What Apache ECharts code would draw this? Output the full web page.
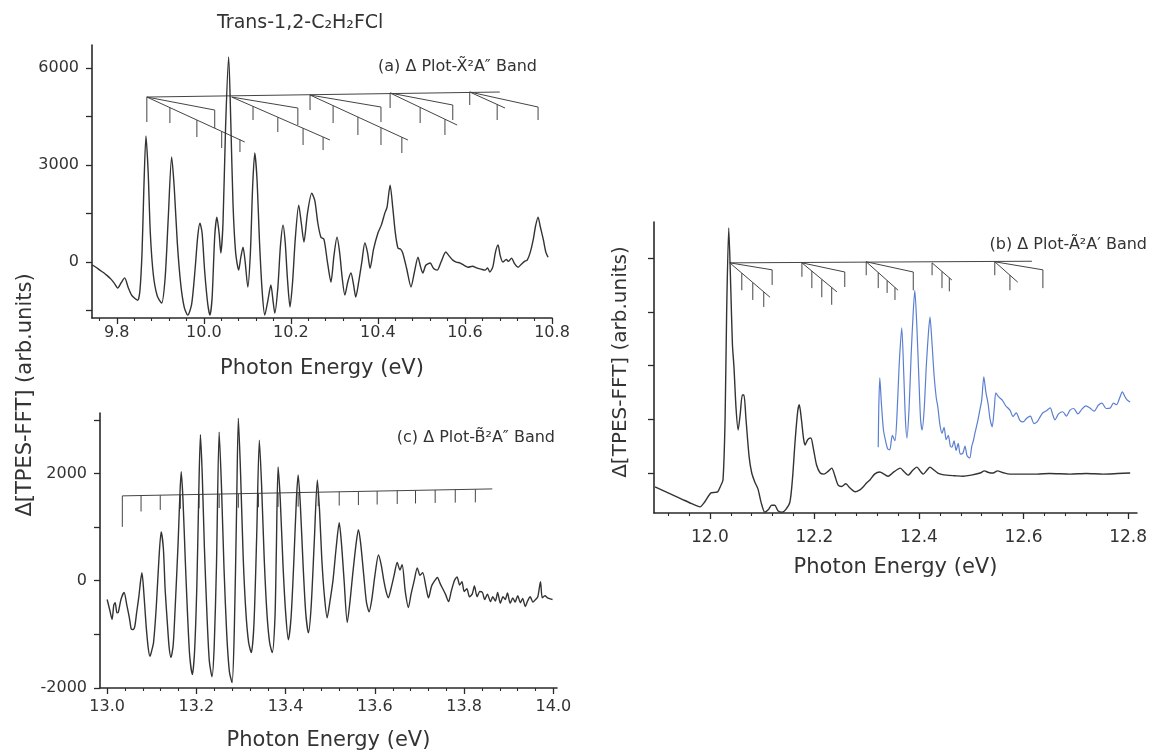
<!DOCTYPE html>
<html>
<head>
<meta charset="utf-8">
<script src="https://cdn.jsdelivr.net/npm/echarts@6/dist/echarts.min.js"></script>
<style>
  html, body { margin: 0; padding: 0; background: #fff; }
  #chart { width: 1150px; height: 753px; }
</style>
</head>
<body>
<div id="chart"></div>
<script>
// ---- panel (a): X band, photon energy (eV) / delta signal
const aEnergy = [9.743, 9.752, 9.761, 9.770, 9.778, 9.786, 9.794, 9.802, 9.810, 9.818, 9.826, 9.834, 9.841, 9.848, 9.853, 9.858, 9.862, 9.867, 9.872, 9.877, 9.884, 9.893, 9.903, 9.911, 9.918, 9.926, 9.932, 9.939, 9.947, 9.955, 9.963, 9.972, 9.980, 9.986, 9.991, 9.996, 10.002, 10.009, 10.014, 10.019, 10.025, 10.030, 10.035, 10.039, 10.044, 10.050, 10.057, 10.062, 10.067, 10.073, 10.080, 10.085, 10.090, 10.095, 10.101, 10.107, 10.112, 10.117, 10.122, 10.128, 10.134, 10.140, 10.147, 10.154, 10.159, 10.163, 10.170, 10.176, 10.182, 10.187, 10.192, 10.198, 10.204, 10.210, 10.218, 10.224, 10.230, 10.238, 10.248, 10.255, 10.262, 10.269, 10.276, 10.284, 10.292, 10.299, 10.306, 10.312, 10.318, 10.324, 10.331, 10.338, 10.344, 10.349, 10.356, 10.363, 10.370, 10.376, 10.382, 10.390, 10.400, 10.408, 10.416, 10.421, 10.428, 10.434, 10.440, 10.446, 10.452, 10.457, 10.466, 10.476, 10.484, 10.492, 10.498, 10.503, 10.510, 10.520, 10.528, 10.536, 10.545, 10.556, 10.563, 10.572, 10.580, 10.589, 10.598, 10.607, 10.617, 10.628, 10.637, 10.646, 10.652, 10.657, 10.664, 10.670, 10.676, 10.681, 10.687, 10.695, 10.700, 10.707, 10.714, 10.722, 10.730, 10.737, 10.743, 10.750, 10.757, 10.762, 10.768, 10.773, 10.780, 10.786, 10.791];
const aSignal = [-90, -160, -250, -330, -420, -520, -650, -800, -640, -490, -780, -1020, -1120, -1180, -900, 300, 2200, 3900, 2800, 900, -400, -1050, -1270, -500, 1300, 3250, 2300, 600, -700, -1400, -1640, -1300, -200, 800, 1200, 900, -300, -1300, -1640, -1100, 800, 1390, 900, 280, 1200, 4200, 6340, 4300, 1800, 300, -250, 150, 460, 0, -770, 300, 2300, 3370, 2600, 600, -900, -1640, -1200, -710, -1200, -1580, -800, 500, 1140, 600, -500, -1390, -600, 700, 1760, 1200, 620, 1500, 2130, 1900, 1200, 770, 700, 0, -620, 200, 770, 300, -500, -1020, -600, -340, -700, -1080, -600, 0, 590, 300, -190, 400, 900, 1150, 1520, 1700, 2380, 1700, 900, 430, 400, 280, -200, -770, -300, 150, -150, -340, -100, -30, -200, -250, 0, 310, 200, 60, 0, -30, -100, -160, -130, -190, -220, -250, -180, -310, -150, 300, 530, 200, 0, 80, 20, 120, -50, -160, -60, 20, 60, 300, 700, 1100, 1390, 1100, 700, 300, 150];
const aTicks = [9.8, 10.0, 10.2, 10.4, 10.6, 10.8];
const aYTicks = [-1500, 0, 1500, 3000, 4500, 6000];
const aYLabels = [0, 3000, 6000];
// vibrational progression comb drawn over panel (a)
const aComb = [
  [[9.869, 5103], [10.680, 5258]],
  [[9.869, 5103], [9.869, 4330]],
  [[9.869, 5103], [10.025, 4701], [10.025, 4145]],
  [[9.869, 5103], [10.094, 3712]],
  [[9.922, 4776], [9.922, 4299]],
  [[9.984, 4392], [9.984, 3866]],
  [[10.041, 4039], [10.041, 3526]],
  [[10.083, 3789], [10.083, 3402]],
  [[10.064, 5103], [10.216, 4763], [10.216, 4237]],
  [[10.064, 5103], [10.290, 3773]],
  [[10.113, 4815], [10.113, 4392]],
  [[10.170, 4479], [10.170, 4021]],
  [[10.228, 4138], [10.228, 3619]],
  [[10.274, 3867], [10.274, 3464]],
  [[10.244, 5165], [10.244, 4701]],
  [[10.244, 5165], [10.407, 4794], [10.407, 4330]],
  [[10.244, 5165], [10.469, 3773]],
  [[10.297, 4840], [10.297, 4299]],
  [[10.354, 4485], [10.354, 3928]],
  [[10.407, 4157], [10.407, 3619]],
  [[10.455, 3860], [10.455, 3371]],
  [[10.428, 5227], [10.428, 4763]],
  [[10.428, 5227], [10.572, 4856], [10.572, 4392]],
  [[10.428, 5227], [10.582, 4237]],
  [[10.497, 4783], [10.497, 4299]],
  [[10.554, 4417], [10.554, 3928]],
  [[10.611, 5258], [10.611, 4856]],
  [[10.611, 5258], [10.692, 4763]],
  [[10.674, 4873], [10.674, 4392]],
  [[10.611, 5258], [10.768, 4794], [10.768, 4392]]
];

// ---- panel (b): A band (black) and magnified tail (blue)
const bEnergy = [11.895, 11.920, 11.945, 11.965, 11.981, 11.990, 12.002, 12.010, 12.015, 12.020, 12.025, 12.029, 12.032, 12.036, 12.040, 12.043, 12.046, 12.050, 12.054, 12.058, 12.062, 12.065, 12.069, 12.075, 12.080, 12.086, 12.092, 12.098, 12.105, 12.112, 12.118, 12.124, 12.130, 12.138, 12.145, 12.153, 12.158, 12.163, 12.168, 12.171, 12.175, 12.179, 12.182, 12.187, 12.193, 12.198, 12.204, 12.211, 12.218, 12.226, 12.233, 12.239, 12.245, 12.252, 12.260, 12.268, 12.278, 12.286, 12.293, 12.300, 12.306, 12.315, 12.325, 12.333, 12.341, 12.352, 12.364, 12.372, 12.379, 12.388, 12.396, 12.402, 12.408, 12.415, 12.421, 12.428, 12.436, 12.445, 12.453, 12.468, 12.484, 12.500, 12.517, 12.525, 12.533, 12.542, 12.550, 12.560, 12.574, 12.600, 12.626, 12.650, 12.689, 12.720, 12.752, 12.780, 12.804];
const bSignal = [-0.26, -0.37, -0.48, -0.57, -0.63, -0.54, -0.37, -0.36, -0.35, -0.25, -0.13, 1.0, 3.0, 4.56, 3.4, 2.4, 1.97, 1.2, 0.80, 1.1, 1.45, 1.45, 1.0, 0.30, 0.0, -0.17, -0.3, -0.55, -0.73, -0.68, -0.60, -0.60, -0.70, -0.73, -0.68, -0.54, -0.1, 0.6, 1.15, 1.27, 1.0, 0.65, 0.52, 0.62, 0.65, 0.45, 0.15, 0.0, -0.02, 0.03, 0.09, -0.05, -0.22, -0.25, -0.2, -0.28, -0.35, -0.32, -0.26, -0.18, -0.13, -0.02, 0.02, -0.02, -0.06, 0.02, 0.09, 0.02, -0.04, 0.05, 0.11, 0.04, -0.02, 0.05, 0.11, 0.06, 0.0, -0.03, -0.04, -0.05, -0.06, -0.04, 0.0, 0.04, 0.01, 0.0, 0.04, 0.01, -0.02, -0.02, -0.02, -0.01, -0.02, -0.01, -0.02, -0.01, 0.0];
const bZoomEnergy = [12.322, 12.323, 12.325, 12.328, 12.332, 12.336, 12.340, 12.344, 12.349, 12.354, 12.358, 12.362, 12.367, 12.371, 12.374, 12.377, 12.381, 12.385, 12.389, 12.392, 12.396, 12.400, 12.403, 12.406, 12.410, 12.414, 12.418, 12.421, 12.425, 12.429, 12.433, 12.436, 12.440, 12.444, 12.448, 12.452, 12.456, 12.460, 12.463, 12.467, 12.471, 12.475, 12.479, 12.484, 12.488, 12.492, 12.497, 12.501, 12.504, 12.507, 12.512, 12.516, 12.520, 12.524, 12.528, 12.532, 12.536, 12.540, 12.544, 12.547, 12.552, 12.559, 12.566, 12.574, 12.580, 12.586, 12.593, 12.599, 12.606, 12.613, 12.620, 12.626, 12.632, 12.637, 12.644, 12.651, 12.656, 12.660, 12.667, 12.675, 12.682, 12.689, 12.696, 12.704, 12.711, 12.719, 12.727, 12.735, 12.743, 12.750, 12.758, 12.766, 12.772, 12.778, 12.784, 12.789, 12.794, 12.798, 12.804];
const bZoomSignal = [0.48, 1.2, 1.77, 1.3, 0.8, 0.6, 0.45, 0.43, 0.7, 0.6, 1.1, 2.0, 2.70, 1.8, 1.0, 0.65, 1.2, 2.2, 3.0, 3.40, 2.7, 1.7, 1.0, 0.80, 1.2, 2.0, 2.6, 2.90, 2.4, 1.8, 1.4, 1.23, 0.9, 0.74, 0.85, 0.62, 0.7, 0.5, 0.48, 0.6, 0.42, 0.55, 0.35, 0.37, 0.5, 0.32, 0.28, 0.5, 0.6, 0.74, 0.95, 1.15, 1.36, 1.79, 1.5, 1.30, 1.0, 0.86, 1.2, 1.49, 1.42, 1.36, 1.25, 1.17, 1.05, 1.12, 0.98, 0.95, 1.02, 1.06, 0.92, 0.95, 1.05, 1.12, 1.16, 1.21, 1.08, 0.99, 1.1, 1.14, 1.06, 1.17, 1.2, 1.1, 1.18, 1.25, 1.21, 1.15, 1.26, 1.3, 1.2, 1.21, 1.3, 1.27, 1.4, 1.51, 1.42, 1.36, 1.32];
const bTicks = [12.0, 12.2, 12.4, 12.6, 12.8];
const bYTicks = [0, 1, 2, 3, 4];
const bComb = [
  [[12.038, 3.91], [12.616, 3.94]],
  [[12.038, 3.91], [12.119, 3.78], [12.119, 3.50]],
  [[12.038, 3.91], [12.115, 3.27]],
  [[12.061, 3.72], [12.061, 3.40]],
  [[12.082, 3.54], [12.082, 3.22]],
  [[12.103, 3.37], [12.103, 3.09]],
  [[12.176, 3.91], [12.176, 3.65]],
  [[12.176, 3.91], [12.258, 3.74], [12.258, 3.46]],
  [[12.176, 3.91], [12.243, 3.37]],
  [[12.195, 3.76], [12.195, 3.44]],
  [[12.214, 3.60], [12.214, 3.27]],
  [[12.233, 3.45], [12.233, 3.13]],
  [[12.299, 3.93], [12.299, 3.68]],
  [[12.299, 3.93], [12.389, 3.74], [12.389, 3.40]],
  [[12.299, 3.93], [12.360, 3.40]],
  [[12.322, 3.73], [12.322, 3.44]],
  [[12.339, 3.58], [12.339, 3.35]],
  [[12.354, 3.45], [12.354, 3.22]],
  [[12.425, 3.91], [12.425, 3.68]],
  [[12.425, 3.91], [12.463, 3.59]],
  [[12.444, 3.75], [12.444, 3.44]],
  [[12.458, 3.63], [12.458, 3.38]],
  [[12.545, 3.93], [12.545, 3.68]],
  [[12.545, 3.93], [12.637, 3.78], [12.637, 3.44]],
  [[12.545, 3.93], [12.589, 3.55]],
  [[12.574, 3.68], [12.574, 3.40]]
];

// ---- panel (c): B band
const cEnergy = [13.000, 13.006, 13.011, 13.015, 13.018, 13.022, 13.025, 13.031, 13.038, 13.044, 13.050, 13.054, 13.058, 13.062, 13.066, 13.071, 13.075, 13.078, 13.082, 13.087, 13.092, 13.096, 13.100, 13.104, 13.110, 13.116, 13.121, 13.126, 13.130, 13.135, 13.139, 13.143, 13.148, 13.153, 13.159, 13.163, 13.166, 13.170, 13.175, 13.180, 13.185, 13.191, 13.196, 13.201, 13.205, 13.209, 13.213, 13.218, 13.224, 13.229, 13.235, 13.240, 13.245, 13.251, 13.256, 13.262, 13.268, 13.274, 13.280, 13.285, 13.290, 13.294, 13.299, 13.305, 13.311, 13.317, 13.323, 13.329, 13.335, 13.341, 13.346, 13.352, 13.358, 13.364, 13.370, 13.376, 13.379, 13.383, 13.388, 13.394, 13.400, 13.406, 13.412, 13.418, 13.424, 13.428, 13.433, 13.439, 13.445, 13.451, 13.457, 13.464, 13.471, 13.476, 13.481, 13.487, 13.493, 13.499, 13.506, 13.513, 13.520, 13.525, 13.531, 13.538, 13.544, 13.550, 13.558, 13.563, 13.568, 13.575, 13.581, 13.587, 13.593, 13.600, 13.608, 13.614, 13.620, 13.625, 13.630, 13.636, 13.643, 13.650, 13.656, 13.661, 13.668, 13.675, 13.681, 13.688, 13.695, 13.701, 13.707, 13.714, 13.720, 13.727, 13.734, 13.740, 13.746, 13.752, 13.758, 13.765, 13.771, 13.778, 13.784, 13.790, 13.795, 13.800, 13.806, 13.812, 13.818, 13.823, 13.829, 13.835, 13.841, 13.846, 13.852, 13.859, 13.864, 13.870, 13.875, 13.881, 13.887, 13.892, 13.897, 13.903, 13.909, 13.914, 13.920, 13.926, 13.931, 13.937, 13.942, 13.948, 13.954, 13.960, 13.965, 13.971, 13.975, 13.981, 13.987, 13.993, 13.998];
const cSignal = [-350, -550, -720, -450, -410, -600, -590, -350, -220, -450, -700, -900, -910, -850, -600, -300, 0, 150, -200, -800, -1250, -1410, -1300, -1150, -500, 400, 910, 600, -170, -800, -1250, -1430, -1200, -400, 700, 1600, 2030, 1500, 400, -600, -1400, -1750, -1300, -100, 1500, 2720, 2000, 600, -700, -1500, -1790, -1200, 300, 2770, 1800, 200, -1000, -1700, -1900, -900, 1300, 3030, 2000, 400, -600, -1150, -1340, -800, 800, 2620, 1800, 400, -600, -1150, -1340, -700, 500, 2120, 1500, 300, -600, -1100, -700, 300, 1500, 1970, 1400, 300, -600, -970, -500, 700, 1880, 1300, 400, -300, -690, -400, 0, 600, 1080, 700, 0, -780, -400, 100, 700, 950, 700, 100, -400, -580, -350, 100, 480, 300, 0, -200, -320, -150, 100, 340, 200, 300, -200, -500, -250, 0, 240, 100, 150, -100, -320, -100, 0, 60, -50, -150, -250, -390, -200, 0, 70, -80, -20, -200, -150, -300, -250, -100, -300, -200, -220, -350, -250, -390, -300, -380, -220, -420, -300, -350, -230, -420, -320, -400, -280, -410, -330, -480, -380, -300, -400, -350, -300, -20, -320, -280, -320, -340, -350];
const cTicks = [13.0, 13.2, 13.4, 13.6, 13.8, 14.0];
const cYTicks = [-2000, -1000, 0, 1000, 2000, 3000];
const cYLabels = [-2000, 0, 2000];
const cComb = [
  [[13.034, 1004], [13.034, 1581], [13.863, 1711]],
  [[13.076, 1588], [13.076, 1290]],
  [[13.119, 1594], [13.119, 1320]],
  [[13.164, 1601], [13.164, 1340]],
  [[13.206, 1608], [13.206, 1350]],
  [[13.251, 1615], [13.251, 1355]],
  [[13.294, 1622], [13.294, 1360]],
  [[13.339, 1629], [13.339, 1370]],
  [[13.383, 1636], [13.383, 1375]],
  [[13.428, 1643], [13.428, 1380]],
  [[13.473, 1650], [13.473, 1390]],
  [[13.520, 1657], [13.520, 1400]],
  [[13.563, 1664], [13.563, 1410]],
  [[13.605, 1671], [13.605, 1420]],
  [[13.650, 1678], [13.650, 1430]],
  [[13.691, 1684], [13.691, 1440]],
  [[13.735, 1691], [13.735, 1450]],
  [[13.780, 1698], [13.780, 1455]],
  [[13.825, 1705], [13.825, 1460]]
];

const FONT = "'DejaVu Sans', sans-serif"
const INK = '#2a2a2a'
const TEXT = '#333'

function zip(xs, ys) {
  return xs.map((x, i) => [x, ys[i]])
}

// five minor divisions between major ticks, continued to the axis ends
function minorOf(majors, min, max) {
  const step = (majors[1] - majors[0]) / 5
  const out = []
  for (let v = majors[0] - step; v > min; v -= step) out.push(+v.toFixed(3))
  for (let i = 0; i < majors.length; i++) {
    for (let k = 1; k < 5; k++) {
      const v = majors[i] + step * k
      if (v < max) out.push(+v.toFixed(3))
    }
  }
  return out
}

function majorX(grid, min, max, ticks, nameGap, margin, size) {
  return {
    type: 'value', gridIndex: grid, position: 'bottom', min: min, max: max,
    axisLine: { onZero: false, lineStyle: { color: INK, width: 1.6 } },
    axisTick: { customValues: ticks, length: 6, lineStyle: { color: INK, width: 1.3 } },
    axisLabel: {
      customValues: ticks, margin: margin, color: TEXT, fontFamily: FONT, fontSize: size,
      formatter: v => v.toFixed(1)
    },
    splitLine: { show: false },
    name: 'Photon Energy (eV)', nameLocation: 'middle', nameGap: nameGap,
    nameTextStyle: { color: TEXT, fontFamily: FONT, fontSize: 21 }
  }
}

function minorX(grid, min, max, ticks) {
  return {
    type: 'value', gridIndex: grid, position: 'bottom', min: min, max: max,
    axisLine: { show: false, onZero: false },
    axisTick: { customValues: minorOf(ticks, min, max), length: 3, lineStyle: { color: INK, width: 1.1 } },
    axisLabel: { show: false },
    splitLine: { show: false }
  }
}

function yAxis(grid, min, max, ticks, labels) {
  return {
    type: 'value', gridIndex: grid, min: min, max: max,
    axisLine: { show: true, onZero: false, lineStyle: { color: INK, width: 1.6 } },
    axisTick: { show: true, customValues: ticks, length: 6, lineStyle: { color: INK, width: 1.3 } },
    axisLabel: labels ? {
      customValues: labels, margin: 13, color: TEXT, fontFamily: FONT, fontSize: 16,
      formatter: v => String(v)
    } : { show: false },
    splitLine: { show: false }
  }
}

function spectrum(name, xi, yi, data, color, width) {
  return {
    name: name, type: 'line', xAxisIndex: xi, yAxisIndex: yi, data: data,
    showSymbol: false, silent: true, smooth: 0.25,
    lineStyle: { color: color, width: width }
  }
}

function comb(name, xi, yi, polylines) {
  return {
    name: name, type: 'lines', coordinateSystem: 'cartesian2d', xAxisIndex: xi, yAxisIndex: yi,
    polyline: true, silent: true,
    lineStyle: { color: '#444', width: 1, opacity: 1 },
    data: polylines.map(p => ({ coords: p }))
  }
}

const chart = echarts.init(document.getElementById('chart'))
chart.setOption({
  backgroundColor: '#fff',
  animation: false,
  grid: [
    { left: 92, top: 45, width: 460, height: 273 },
    { left: 654, top: 222, width: 483, height: 291 },
    { left: 100, top: 413, width: 457, height: 275 }
  ],
  xAxis: [
    majorX(0, 9.743, 10.8, aTicks, 40, 7, 16),
    minorX(0, 9.743, 10.8, aTicks),
    majorX(1, 11.893, 12.817, bTicks, 44, 16, 17),
    minorX(1, 11.893, 12.817, bTicks),
    majorX(2, 12.984, 14.008, cTicks, 42, 11, 16),
    minorX(2, 12.984, 14.008, cTicks)
  ],
  yAxis: [
    yAxis(0, -1730, 6712, aYTicks, aYLabels),
    yAxis(1, -0.744, 4.67, bYTicks, null),
    yAxis(2, -2000, 3126, cYTicks, cYLabels)
  ],
  graphic: [
    { type: 'text', left: 312 - 95, top: 14, style: { text: 'Trans-1,2-C₂H₂FCl', fill: TEXT, font: '19px ' + FONT } },
    { type: 'text', right: 1150 - 537, top: 59, style: { text: '(a) Δ Plot-X̃²A″ Band', fill: TEXT, font: '16px ' + FONT } },
    { type: 'text', right: 1150 - 1147, top: 237, style: { text: '(b) Δ Plot-Ã²A′ Band', fill: TEXT, font: '16px ' + FONT } },
    { type: 'text', right: 1150 - 555, top: 430, style: { text: '(c) Δ Plot-B̃²A″ Band', fill: TEXT, font: '16px ' + FONT } },
    {
      type: 'text', x: 26, y: 395, rotation: Math.PI / 2,
      style: { text: 'Δ[TPES-FFT] (arb.units)', fill: TEXT, font: '21px ' + FONT, textAlign: 'center', textVerticalAlign: 'middle' }
    },
    {
      type: 'text', x: 621, y: 362, rotation: Math.PI / 2,
      style: { text: 'Δ[TPES-FFT] (arb.units)', fill: TEXT, font: '20px ' + FONT, textAlign: 'center', textVerticalAlign: 'middle' }
    }
  ],
  series: [
    spectrum('X band', 0, 0, zip(aEnergy, aSignal), '#333', 1.4),
    comb('X comb', 0, 0, aComb),
    spectrum('A band', 2, 1, zip(bEnergy, bSignal), '#333', 1.4),
    spectrum('A band x10', 2, 1, zip(bZoomEnergy, bZoomSignal), '#5b7fd0', 1.2),
    comb('A comb', 2, 1, bComb),
    spectrum('B band', 4, 2, zip(cEnergy, cSignal), '#333', 1.4),
    comb('B comb', 4, 2, cComb)
  ]
})
</script>
</body>
</html>
